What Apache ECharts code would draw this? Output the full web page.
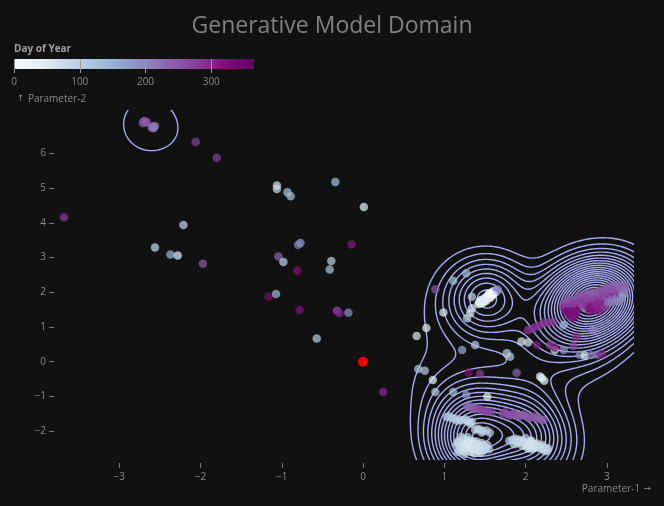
<!DOCTYPE html>
<html><head><meta charset="utf-8">
<script src="https://cdn.jsdelivr.net/npm/echarts@6/dist/echarts.min.js"></script>
<style>html,body{margin:0;padding:0;background:#111111;}#main{width:664px;height:506px;}</style>
</head><body><div id="main"></div>
<script>
// ---------------- DATA ----------------
const xTicks = [-3, -2, -1, 0, 1, 2, 3];
const yTicks = [-2, -1, 0, 1, 2, 3, 4, 5, 6];
const legendTicks = [0, 100, 200, 300];
const dayRange = [0, 365];
const referencePoint = [[0, 0]];
const BuPu = ['#f7fcfd', '#e0ecf4', '#bfd3e6', '#9ebcda', '#8c96c6', '#8c6bb1', '#88419d', '#810f7c', '#600060'];

// [Parameter-1, Parameter-2, Day of Year]
const scattered = [
  [-2.06,6.33,270],[-1.80,5.88,275],[-1.06,5.08,60],[-1.06,4.98,70],[-0.93,4.88,120],[-0.89,4.77,125],
  [-0.34,5.18,125],[0.01,4.46,25],[-2.21,3.94,80],[-2.56,3.29,80],[-2.37,3.09,140],[-2.28,3.06,40],
  [-1.97,2.82,245],[-0.77,3.42,170],[-0.80,3.37,200],[-0.14,3.38,310],[-1.04,3.03,235],[-0.98,2.87,90],
  [-0.39,2.90,95],[-0.41,2.66,120],[-0.81,2.62,320],[-1.16,1.88,330],[-1.07,1.95,140],[-0.78,1.49,320],
  [-0.32,1.47,255],[-0.29,1.40,300],[-0.18,1.41,185],[-0.57,0.67,100],[-3.68,4.16,275],[0.25,-0.87,290]
];
const topLeft = [
  [-2.70,6.92,252],[-2.68,6.89,246],[-2.71,6.88,258],[-2.66,6.91,241],[-2.69,6.94,249],
  [-2.59,6.78,214],[-2.57,6.76,208],[-2.60,6.75,222],[-2.56,6.79,217],[-2.58,6.73,211]
];
const rightCluster = [
  [2.46,1.66,268],[2.47,1.55,291],[2.49,1.72,256],[2.50,1.62,272],[2.51,1.50,308],[2.53,1.68,264],
  [2.54,1.58,285],[2.56,1.75,259],[2.57,1.64,276],[2.58,1.52,312],[2.60,1.70,267],[2.61,1.78,250],
  [2.62,1.60,290],[2.63,1.67,279],[2.65,1.74,261],[2.66,1.55,315],[2.67,1.82,253],[2.68,1.64,283],
  [2.69,1.71,271],[2.71,1.79,258],[2.72,1.58,198],[2.73,1.86,248],[2.74,1.68,287],[2.75,1.75,274],
  [2.76,1.62,295],[2.78,1.83,263],[2.79,1.90,242],[2.80,1.70,289],[2.81,1.77,277],[2.82,1.64,318],
  [2.84,1.87,260],[2.85,1.94,246],[2.86,1.74,292],[2.87,1.81,280],[2.88,1.68,307],[2.90,1.90,265],
  [2.91,1.97,239],[2.92,1.78,297],[2.93,1.84,282],[2.94,1.71,228],[2.96,1.93,269],[2.97,2.01,244],
  [2.98,1.82,300],[2.99,1.88,286],[3.00,1.75,216],[3.02,1.97,273],[3.03,2.06,251],[3.04,1.86,303],
  [3.05,1.92,288],[3.06,1.79,208],[3.08,2.01,275],[3.09,2.12,254],[3.10,1.90,296],[3.11,1.96,284],
  [3.12,1.83,192],[3.14,2.05,266],[3.15,2.18,236],[3.16,1.94,291],[3.18,2.00,223],[3.19,1.88,185],
  [3.20,2.09,242],[3.21,1.97,163],[3.22,2.21,230],[3.04,2.16,261],[2.95,2.07,257],[2.87,2.00,249],
  [2.77,1.93,255],[2.64,1.84,246],[2.55,1.45,329],[2.62,1.49,333],[2.80,1.55,316],[2.88,1.60,301],
  [2.97,1.66,294],[3.07,1.72,206],[3.17,1.80,195],[2.52,1.80,252],[2.59,1.68,278],[2.83,1.80,270],
  [2.98,1.95,267],[3.12,2.08,260],[2.70,1.65,284],[2.92,1.72,299],
  [2.55,1.38,312],[2.58,1.32,327],[2.62,1.40,318],[2.60,1.28,333],[2.79,1.45,314],[2.84,1.50,322],
  [2.90,1.46,307],[2.94,1.55,298],[2.99,1.60,279],[2.50,1.44,336],[2.66,1.88,256],[2.72,1.95,242],
  [2.80,2.00,238],[2.90,2.04,251],[3.00,2.12,248],[3.10,2.20,227],[3.18,2.10,232],[3.22,2.05,221],
  [3.14,1.72,201],[3.02,1.70,213],[2.85,1.62,299],[2.75,1.83,269],[2.68,1.75,276],[2.93,1.90,264],[3.07,2.08,259]
];
const purpleBand = [
  [2.03,0.91,285],[2.08,0.95,288],[2.12,0.99,291],[2.17,1.04,283],[2.22,1.11,280],[2.28,1.13,282],
  [2.34,1.15,277],[2.47,1.06,131],[2.55,1.30,300],[2.54,1.36,335],[2.63,0.72,292],[2.83,0.91,199],
  [2.30,0.48,270],[2.36,0.34,58],[2.47,0.34,178],[2.59,0.45,268],[2.14,0.48,312],[2.36,0.41,318],
  [2.67,0.19,182],[2.73,0.18,42],[2.81,0.19,212],[2.88,0.20,225],[2.94,0.22,301]
];
const whiteCluster = [
  [1.42,1.66,38],[1.43,1.72,33],[1.44,1.68,41],[1.45,1.74,47],[1.46,1.70,29],[1.47,1.77,36],
  [1.47,1.73,26],[1.48,1.80,44],[1.49,1.75,22],[1.50,1.82,31],[1.50,1.78,19],[1.51,1.85,27],
  [1.52,1.80,35],[1.53,1.88,24],[1.53,1.84,17],[1.54,1.90,28],[1.55,1.86,52],[1.56,1.93,14],
  [1.56,1.89,11],[1.57,1.96,9],[1.58,1.91,21],[1.59,1.99,6],[1.59,1.95,15],[1.60,2.02,3],
  [1.61,1.97,12],[1.62,2.04,8],[1.63,2.00,18],[1.64,2.07,196],[1.65,2.03,203],[1.66,2.08,190],
  [1.48,1.70,40],[1.52,1.76,45],[1.57,1.84,49],[1.45,1.78,55],[1.55,1.97,5],[1.60,1.92,13]
];
const whiteSurroundings = [
  [1.34,1.87,92],[1.34,1.54,58],[1.32,1.40,66],[1.28,1.25,88],[1.27,2.55,128],[1.11,2.33,118],
  [0.89,2.09,252],[0.99,1.42,31],[0.78,0.97,34],[0.66,0.74,44]
];
const middlePoints = [
  [1.22,0.34,152],[1.38,0.48,108],[0.68,-0.21,112],[0.76,-0.26,106],[0.86,-0.53,29],[0.89,-0.87,98],
  [1.11,-0.87,121],[1.27,-0.96,168],[1.53,-1.01,27],[1.30,-0.31,321],[1.44,-0.35,279],[1.77,0.24,88],
  [1.81,0.14,97],[1.89,-0.32,233],[1.95,0.58,48],[2.03,0.55,61],[2.18,-0.43,23],[2.23,-0.55,28],[2.20,-0.47,32]
];
const bottomPurpleRow = [
  [1.28,-1.30,231],[1.34,-1.33,238],[1.40,-1.35,259],[1.47,-1.40,266],[1.54,-1.44,278],[1.72,-1.49,262],
  [1.77,-1.51,271],[1.83,-1.52,255],[1.89,-1.54,249],[1.95,-1.55,244],[2.01,-1.57,239],[2.07,-1.60,247],
  [2.13,-1.63,252],[2.18,-1.66,241],
  [1.31,-1.28,228],[1.37,-1.37,245],[1.44,-1.37,262],[1.50,-1.43,270],[1.58,-1.45,273],[1.75,-1.46,265],
  [1.80,-1.55,258],[1.86,-1.49,251],[1.92,-1.57,246],[1.98,-1.52,240],[2.04,-1.62,243],[2.10,-1.58,250],
  [2.16,-1.61,237],[2.22,-1.68,234]
];
const bottomBlueRow = [
  [1.03,-1.59,112],[1.09,-1.63,104],[1.13,-1.64,99],[1.19,-1.67,95],[1.23,-1.69,91],[1.29,-1.72,84],
  [1.34,-1.74,79],[1.38,-1.97,83],[1.44,-1.96,88],[1.48,-2.00,93],
  [1.06,-1.57,116],[1.16,-1.70,102],[1.26,-1.66,97],[1.32,-1.79,86],[1.41,-1.93,90],[1.46,-2.04,95],
  [1.52,-1.98,98],[1.56,-2.05,103]
];
const bottomLeftBlob = [
  [1.15,-2.40,89],[1.18,-2.28,74],[1.19,-2.52,81],[1.21,-2.35,68],[1.23,-2.45,77],[1.24,-2.22,72],
  [1.26,-2.58,63],[1.27,-2.31,58],[1.28,-2.40,66],[1.30,-2.50,70],[1.31,-2.26,61],[1.32,-2.36,55],
  [1.33,-2.60,79],[1.35,-2.44,64],[1.36,-2.30,57],[1.38,-2.52,73],[1.39,-2.38,60],[1.41,-2.47,69],
  [1.43,-2.55,76],[1.44,-2.42,62],[1.46,-2.34,85],[1.48,-2.50,71],[1.50,-2.45,82],[1.52,-2.48,87],
  [1.25,-2.65,94],[1.37,-2.64,67],[1.21,-2.16,101],[1.29,-2.18,96],[1.17,-2.60,86],[1.45,-2.62,59],
  [1.16,-2.33,91],[1.20,-2.44,83],[1.22,-2.56,78],[1.25,-2.38,71],[1.27,-2.48,65],[1.29,-2.29,60],
  [1.32,-2.44,57],[1.34,-2.53,62],[1.36,-2.38,67],[1.40,-2.30,75],[1.42,-2.58,72],[1.47,-2.41,80],
  [1.49,-2.56,84],[1.53,-2.40,89],[1.55,-2.52,93]
];
const bottomRightBlob = [
  [1.84,-2.25,78],[1.88,-2.30,71],[1.91,-2.24,84],[1.94,-2.33,66],[1.97,-2.28,75],[1.99,-2.37,69],
  [2.02,-2.33,62],[2.04,-2.40,73],[2.06,-2.31,80],[2.09,-2.44,65],[2.11,-2.38,58],[2.13,-2.47,70],
  [2.15,-2.42,77],[2.18,-2.50,61],[2.20,-2.46,68],[2.22,-2.53,74],[2.25,-2.49,83],[2.27,-2.56,90],
  [1.96,-2.42,87],[2.08,-2.52,79],[1.86,-2.38,92],[2.00,-2.20,99],
  [1.87,-2.22,96],[1.90,-2.35,88],[1.93,-2.27,82],[1.98,-2.33,76],[2.01,-2.44,71],[2.05,-2.36,64],
  [2.07,-2.27,59],[2.10,-2.49,67],[2.14,-2.36,73],[2.17,-2.45,81],[2.21,-2.40,86],[2.24,-2.58,91],
  [2.28,-2.50,95],[1.80,-2.28,100],[2.03,-2.50,63]
];
// ---------------- STYLE ----------------
const FONT = '"Open Sans", "Noto Sans", sans-serif';
const allPoints = [].concat(scattered, topLeft, rightCluster, purpleBand, whiteCluster, whiteSurroundings,
  middlePoints, bottomPurpleRow, bottomBlueRow, bottomLeftBlob, bottomRightBlob);
const X_MIN = -3.766, X_MAX = 3.335, Y_MIN = -2.833, Y_MAX = 7.254;
const BANDWIDTH = 26, FIRST_LEVEL = 6.2, LEVEL_STEP = 4.0;

const chart = echarts.init(document.getElementById('main'), null, {renderer: 'canvas'});
let contourLines = [];
const minus = v => String(v).replace('-', '\u2212');
const arrowRich = {
  arr: {fontFamily: '"DejaVu Sans", sans-serif', fontSize: 9, fill: '#8a8a8a'},
  t: {fontFamily: FONT, fontSize: 10, fill: '#8a8a8a'}
};

chart.setOption({
  backgroundColor: '#111111',
  animation: false,
  title: {text: 'Generative Model Domain', left: 'center', top: 10,
    textStyle: {color: '#808080', fontSize: 23, fontWeight: 'normal', fontFamily: FONT}},
  grid: [
    {left: 57, right: 30, top: 110, bottom: 46},
    {left: 14, top: 59, width: 240, height: 10}
  ],
  xAxis: [
    {type: 'value', gridIndex: 0, min: X_MIN, max: X_MAX, offset: 3,
      axisLine: {show: false, onZero: false}, splitLine: {show: false},
      axisTick: {show: true, customValues: xTicks, length: 5, lineStyle: {color: '#777'}},
      axisLabel: {customValues: xTicks, color: '#8a8a8a', fontSize: 10, fontFamily: FONT, margin: 9, formatter: minus}},
    {type: 'value', gridIndex: 1, position: 'top', min: dayRange[0], max: dayRange[1], z: 10,
      axisLine: {show: false, onZero: false}, splitLine: {show: false}, axisLabel: {show: false},
      axisTick: {show: true, inside: true, length: 14, customValues: legendTicks, lineStyle: {color: '#9a9a9a', width: 1}}},
    {type: 'value', gridIndex: 1, position: 'bottom', min: dayRange[0], max: dayRange[1], z: 10,
      axisLine: {show: false, onZero: false}, splitLine: {show: false}, axisTick: {show: false},
      axisLabel: {customValues: legendTicks, color: '#8a8a8a', fontSize: 10, fontFamily: FONT, margin: 8}}
  ],
  yAxis: [
    {type: 'value', gridIndex: 0, min: Y_MIN, max: Y_MAX, offset: 3,
      axisLine: {show: false, onZero: false}, splitLine: {show: false},
      axisTick: {show: true, customValues: yTicks, length: 5, lineStyle: {color: '#777'}},
      axisLabel: {customValues: yTicks, color: '#8a8a8a', fontSize: 10, fontFamily: FONT, margin: 8, formatter: minus}},
    {type: 'value', gridIndex: 1, show: false, min: 0, max: 1, axisLine: {onZero: false}}
  ],
  visualMap: {
    type: 'continuous', min: dayRange[0], max: dayRange[1], dimension: 2, seriesIndex: 1,
    orient: 'horizontal', left: 14, top: 59, itemWidth: 10, itemHeight: 240, padding: 0,
    calculable: false, hoverLink: false, inRange: {color: BuPu}, textStyle: {color: '#888'}
  },
  graphic: [
    {type: 'text', left: 14, top: 44, style: {text: 'Day of Year', fill: '#a0a0a0', font: 'bold 10px ' + FONT}},
    {type: 'text', left: 17, top: 93, style: {text: '{arr|\u2191} {t|Parameter-2}', rich: arrowRich}},
    {type: 'text', right: 13, top: 483, style: {text: '{t|Parameter-1} {arr|\u2192}', rich: arrowRich}}
  ],
  series: [
    {id: 'contours', type: 'custom', xAxisIndex: 0, yAxisIndex: 0, clip: true, silent: true, data: [],
      renderItem: (params, api) => ({
        type: 'group',
        children: contourLines.map(pl => ({
          type: 'polyline',
          shape: {points: pl.map(p => api.coord(p))},
          style: {stroke: '#a7aaf4', lineWidth: 1.4, fill: null}
        }))
      })},
    {type: 'scatter', xAxisIndex: 0, yAxisIndex: 0, data: allPoints, symbolSize: 8.5,
      itemStyle: {opacity: 0.7}, silent: true},
    {type: 'scatter', xAxisIndex: 0, yAxisIndex: 0, data: referencePoint, symbolSize: 10,
      itemStyle: {color: '#ee0000', opacity: 1}, silent: true, z: 5}
  ]
});

// --------- density contours computed from the points ---------
function buildContours() {
  const o = chart.convertToPixel({gridIndex: 0}, [0, 0]);
  const a = chart.convertToPixel({gridIndex: 0}, [1, 1]);
  const sx = a[0] - o[0], sy = o[1] - a[1];
  const cell = 1.5;
  const dx = cell / sx, dy = cell / sy;
  const x0 = -4.3, x1 = 4.6, y0 = -4.0, y1 = 8.6;
  const nx = Math.ceil((x1 - x0) / dx) + 1, ny = Math.ceil((y1 - y0) / dy) + 1;
  const g = new Float64Array(nx * ny);
  const s2 = 2 * BANDWIDTH * BANDWIDTH, R = 3.8 * BANDWIDTH, ri = Math.ceil(R / cell);
  for (const p of allPoints) {
    const ci = Math.round((p[0] - x0) / dx), cj = Math.round((p[1] - y0) / dy);
    for (let j = Math.max(0, cj - ri); j <= Math.min(ny - 1, cj + ri); j++) {
      const py = (y0 + j * dy - p[1]) * sy;
      for (let i = Math.max(0, ci - ri); i <= Math.min(nx - 1, ci + ri); i++) {
        const px = (x0 + i * dx - p[0]) * sx;
        const d2 = px * px + py * py;
        if (d2 < R * R) g[j * nx + i] += Math.exp(-d2 / s2);
      }
    }
  }
  let max = 0;
  for (let k = 0; k < g.length; k++) if (g[k] > max) max = g[k];
  const lines = [];
  for (let L = FIRST_LEVEL; L < max; L += LEVEL_STEP) {
    const segs = [];
    const interp = (va, vb) => (L - va) / (vb - va);
    for (let j = 0; j < ny - 1; j++) {
      for (let i = 0; i < nx - 1; i++) {
        const v0 = g[j * nx + i], v1 = g[j * nx + i + 1], v2 = g[(j + 1) * nx + i + 1], v3 = g[(j + 1) * nx + i];
        const c = (v0 >= L ? 1 : 0) | (v1 >= L ? 2 : 0) | (v2 >= L ? 4 : 0) | (v3 >= L ? 8 : 0);
        if (c === 0 || c === 15) continue;
        const E = e => {
          if (e === 0) return ['h' + i + ',' + j, [x0 + (i + interp(v0, v1)) * dx, y0 + j * dy]];
          if (e === 1) return ['v' + (i + 1) + ',' + j, [x0 + (i + 1) * dx, y0 + (j + interp(v1, v2)) * dy]];
          if (e === 2) return ['h' + i + ',' + (j + 1), [x0 + (i + interp(v3, v2)) * dx, y0 + (j + 1) * dy]];
          return ['v' + i + ',' + j, [x0 + i * dx, y0 + (j + interp(v0, v3)) * dy]];
        };
        const add = (ea, eb) => { const A = E(ea), B = E(eb); segs.push({k0: A[0], p0: A[1], k1: B[0], p1: B[1]}); };
        const center = (v0 + v1 + v2 + v3) / 4 >= L;
        switch (c) {
          case 1: case 14: add(3, 0); break;
          case 2: case 13: add(0, 1); break;
          case 3: case 12: add(3, 1); break;
          case 4: case 11: add(1, 2); break;
          case 6: case 9: add(0, 2); break;
          case 7: case 8: add(3, 2); break;
          case 5: if (center) { add(0, 1); add(2, 3); } else { add(3, 0); add(1, 2); } break;
          case 10: if (center) { add(3, 0); add(1, 2); } else { add(0, 1); add(2, 3); } break;
        }
      }
    }
    const adj = new Map();
    segs.forEach((s, idx) => {
      [s.k0, s.k1].forEach(k => { if (!adj.has(k)) adj.set(k, []); adj.get(k).push(idx); });
    });
    const used = new Uint8Array(segs.length);
    for (let idx = 0; idx < segs.length; idx++) {
      if (used[idx]) continue;
      used[idx] = 1;
      const s = segs[idx];
      const line = [s.p0, s.p1];
      let key = s.k1;
      for (;;) {
        const nxt = (adj.get(key) || []).find(n => !used[n]);
        if (nxt === undefined) break;
        used[nxt] = 1; const t = segs[nxt];
        if (t.k0 === key) { line.push(t.p1); key = t.k1; } else { line.push(t.p0); key = t.k0; }
      }
      key = s.k0;
      for (;;) {
        const nxt = (adj.get(key) || []).find(n => !used[n]);
        if (nxt === undefined) break;
        used[nxt] = 1; const t = segs[nxt];
        if (t.k0 === key) { line.unshift(t.p1); key = t.k1; } else { line.unshift(t.p0); key = t.k0; }
      }
      lines.push(line);
    }
  }
  return lines;
}
contourLines = buildContours();
chart.setOption({series: [{id: 'contours', data: [[0, 0]]}]});
</script></body></html>
